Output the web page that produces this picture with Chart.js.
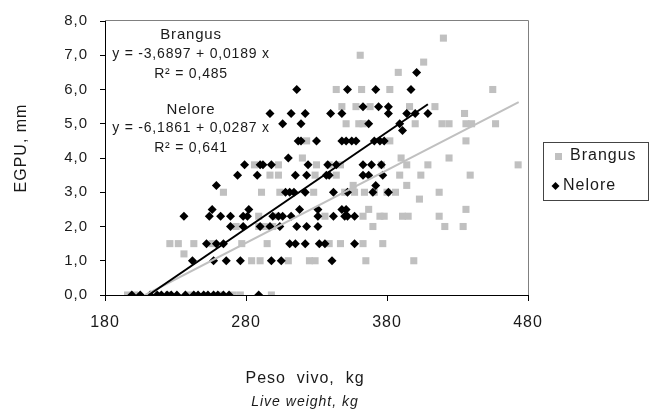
<!DOCTYPE html>
<html><head><meta charset="utf-8">
<script src="https://cdn.jsdelivr.net/npm/chart.js@4.4.1/dist/chart.umd.min.js"></script>
<style>html,body{margin:0;padding:0;background:#fff}#wrap{width:651px;height:411px;position:relative}</style>
</head><body><div id="wrap"><canvas id="c" width="651" height="411"></canvas></div>
<script>
// ---- data ----
const seriesNames = ['Brangus', 'Nelore'];
const xTicks = [180, 280, 380, 480];
const yTicks = [0, 1, 2, 3, 4, 5, 6, 7, 8];

const brangusWeight = [
  196,201,225,240,262,271,276,298,
  284,290,310,325,329,365,399,
  236,
  226,232,243,256,277,295,339,347,363,377,
  273,289,293,299,370,421,434,
  289,302,336,363,375,378,391,395,417,
  367,436,
  403,
  264,291,304,328,350,357,364,371,380,386,417,
  356,394,
  297,303,329,344,389,404,439,
  286,303,330,339,347,376,394,409,473,
  320,390,424,
  323,382,436,
  351,360,363,400,419,424,436,440,457,
  435,
  348,358,368,396,414,
  344,362,382,455,
  388,406,361,420
];
const brangusEgpu = [
  0,0,0,0,0,0,0,0,
  1,1,1,1,1,1,1,
  1.2,
  1.5,1.5,1.5,1.5,1.5,1.5,1.5,1.5,1.5,1.5,
  2,2,2,2,2,2,2,
  2.3,2.3,2.3,2.3,2.3,2.3,2.3,2.3,2.3,
  2.5,2.5,
  2.8,
  3,3,3,3,3,3,3,3,3,3,3,
  3.2,3.2,
  3.5,3.5,3.5,3.5,3.5,3.5,3.5,
  3.8,3.8,3.8,3.8,3.8,3.8,3.8,3.8,3.8,
  4,4,4,
  4.5,4.5,4.5,
  5,5,5,5,5,5,5,5,5,
  5.3,
  5.5,5.5,5.5,5.5,5.5,
  6,6,6,6,
  6.5,6.8,7,7.5
];

const neloreWeight = [
  199,205,212,217,220,224,227,231,237,243,246,250,253,257,260,264,268,289,
  242,257,266,276,298,305,341,
  252,259,264,311,315,322,332,336,357,
  269,278,290,297,304,316,323,331,
  236,254,262,269,278,281,299,303,306,312,331,342,350,352,357,
  256,282,318,331,348,351,
  308,311,314,322,342,352,370,381,
  259,372,
  274,288,315,323,337,339,363,367,377,
  279,290,292,298,324,338,344,363,369,376,
  310,
  317,319,330,348,351,355,358,371,375,378,
  391,
  306,319,367,389,
  297,312,322,340,348,381,394,400,409,
  363,374,381,
  316,352,372,397,
  401
];
const neloreEgpu = [
  0,0,0,0,0,0,0,0,0,0,0,0,0,0,0,0,0,0,
  1,1,1,1,1,1,1,
  1.5,1.5,1.5,1.5,1.5,1.5,1.5,1.5,1.5,
  2,2,2,2,2,2,2,2,
  2.3,2.3,2.3,2.3,2.3,2.3,2.3,2.3,2.3,2.3,2.3,2.3,2.3,2.3,2.3,
  2.5,2.5,2.5,2.5,2.5,2.5,
  3,3,3,3,3,3,3,3,
  3.2,3.2,
  3.5,3.5,3.5,3.5,3.5,3.5,3.5,3.5,3.5,
  3.8,3.8,3.8,3.8,3.8,3.8,3.8,3.8,3.8,3.8,
  4,
  4.5,4.5,4.5,4.5,4.5,4.5,4.5,4.5,4.5,4.5,
  4.8,
  5,5,5,5,
  5.3,5.3,5.3,5.3,5.3,5.3,5.3,5.3,5.3,
  5.5,5.5,5.5,
  6,6,6,6,
  6.5
];

// trend line end points as drawn in the picture
const brangusTrendWeight = [208.5, 473.4];
const brangusTrendEgpu = [0, 5.63];
const neloreTrendWeight = [211, 409];
const neloreTrendEgpu = [0, 5.57];

const equationTexts = ['Brangus', 'y = -3,6897 + 0,0189 x', 'R² = 0,485', 'Nelore', 'y = -6,1861 + 0,0287 x', 'R² = 0,641'];
const xTitle = 'Peso  vivo,  kg';
const xSubtitle = 'Live weight, kg';
const yTitle = 'EGPU, mm';

// ---- build ----
const FONT = '"Liberation Sans", Arial, Helvetica, sans-serif';
const GRAY = '#c0c0c0';
const TXT = '#1a1a1a';
const pts = (xs, ys) => xs.map((v, i) => ({x: v, y: ys[i]}));
const comma = v => Number(v).toFixed(1).replace('.', ',');

// positions of the equation block (data coordinates)
const eqPos = [[241, 7.59], [241, 7.04], [241, 6.46], [241, 5.42], [241, 4.87], [241, 4.29]];

const deco = {
  id: 'deco',
  beforeDraw(chart) { chart.ctx.letterSpacing = '1px'; },
  afterDraw(chart) {
    const {ctx, chartArea: a, scales: {x, y}} = chart;
    ctx.save();
    // plot border top & right
    ctx.strokeStyle = '#808080'; ctx.lineWidth = 1;
    ctx.beginPath();
    ctx.moveTo(a.left, Math.round(a.top) - 0.5);
    ctx.lineTo(Math.round(a.right) + 0.5, Math.round(a.top) - 0.5);
    ctx.lineTo(Math.round(a.right) + 0.5, a.bottom);
    ctx.stroke();
    // equations
    ctx.fillStyle = TXT; ctx.textAlign = 'center'; ctx.textBaseline = 'middle';
    ctx.letterSpacing = '0.8px';
    ctx.font = '14px ' + FONT;
    equationTexts.forEach((t, i) => {
      ctx.font = (i % 3 === 0 ? '15px ' : '14px ') + FONT;
      ctx.fillText(t, x.getPixelForValue(eqPos[i][0]), y.getPixelForValue(eqPos[i][1]));
    });
    ctx.letterSpacing = '1px';
    // axis titles
    ctx.font = '16px ' + FONT;
    ctx.fillText(xTitle, a.left + 200, a.bottom + 84);
    ctx.font = 'italic 14px ' + FONT;
    ctx.fillText(xSubtitle, a.left + 200, a.bottom + 107);
    ctx.save();
    ctx.translate(22, a.top + 127);
    ctx.rotate(-Math.PI / 2);
    ctx.font = '16px ' + FONT;
    ctx.fillText(yTitle, 0, 0);
    ctx.restore();
    // legend
    const lx = a.right + 15, ly = 142;
    ctx.strokeStyle = '#444';
    ctx.strokeRect(lx + 0.5, ly + 0.5, 105, 58);
    ctx.fillStyle = GRAY;
    ctx.fillRect(lx + 12, ly + 11, 7, 7);
    ctx.fillStyle = '#000';
    ctx.beginPath();
    const dx = lx + 12.5, dy = ly + 44;
    ctx.moveTo(dx, dy - 4); ctx.lineTo(dx + 4, dy); ctx.lineTo(dx, dy + 4); ctx.lineTo(dx - 4, dy); ctx.closePath(); ctx.fill();
    ctx.fillStyle = TXT; ctx.textAlign = 'left'; ctx.font = '16px ' + FONT;
    ctx.fillText(seriesNames[0], lx + 27, ly + 14);
    ctx.fillText(seriesNames[1], lx + 20, ly + 44);
    ctx.restore();
  }
};

new Chart(document.getElementById('c'), {
  type: 'scatter',
  data: {
    datasets: [
      {label: seriesNames[0], data: pts(brangusWeight, brangusEgpu), pointStyle: 'rect', pointRadius: 5, pointBackgroundColor: GRAY, pointBorderWidth: 0, backgroundColor: GRAY, borderColor: GRAY, order: 4},
      {label: seriesNames[1], data: pts(neloreWeight, neloreEgpu), pointStyle: 'rectRot', pointRadius: 4.5, pointBackgroundColor: '#000', pointBorderWidth: 0, backgroundColor: '#000', borderColor: '#000', order: 3},
      {type: 'line', label: 'trend B', data: pts(brangusTrendWeight, brangusTrendEgpu), borderColor: GRAY, borderWidth: 2, pointRadius: 0, fill: false, order: 2},
      {type: 'line', label: 'trend N', data: pts(neloreTrendWeight, neloreTrendEgpu), borderColor: '#000', borderWidth: 2, pointRadius: 0, fill: false, order: 1}
    ]
  },
  options: {
    responsive: false, animation: false, devicePixelRatio: 1,
    layout: {padding: {top: 18, right: 123, left: 0, bottom: 0}},
    plugins: {legend: {display: false}, tooltip: {enabled: false}},
    scales: {
      x: {
        type: 'linear', min: xTicks[0], max: xTicks[xTicks.length - 1],
        afterBuildTicks: s => { s.ticks = xTicks.map(v => ({value: v})); },
        afterFit: s => { s.height = 116; },
        ticks: {callback: v => String(v), color: TXT, font: {family: FONT, size: 16}, padding: 12, maxRotation: 0},
        grid: {drawOnChartArea: false, drawTicks: true, tickLength: 6, color: '#000'},
        border: {color: '#000', width: 1}
      },
      y: {
        type: 'linear', min: yTicks[0], max: yTicks[yTicks.length - 1],
        afterBuildTicks: s => { s.ticks = yTicks.map(v => ({value: v})); },
        afterFit: s => { s.width = 105; },
        ticks: {callback: v => comma(v), color: TXT, font: {family: FONT, size: 15}, padding: 12},
        grid: {drawOnChartArea: false, drawTicks: true, tickLength: 5, color: '#000'},
        border: {color: '#000', width: 1}
      }
    }
  },
  plugins: [deco]
});
</script></body></html>
